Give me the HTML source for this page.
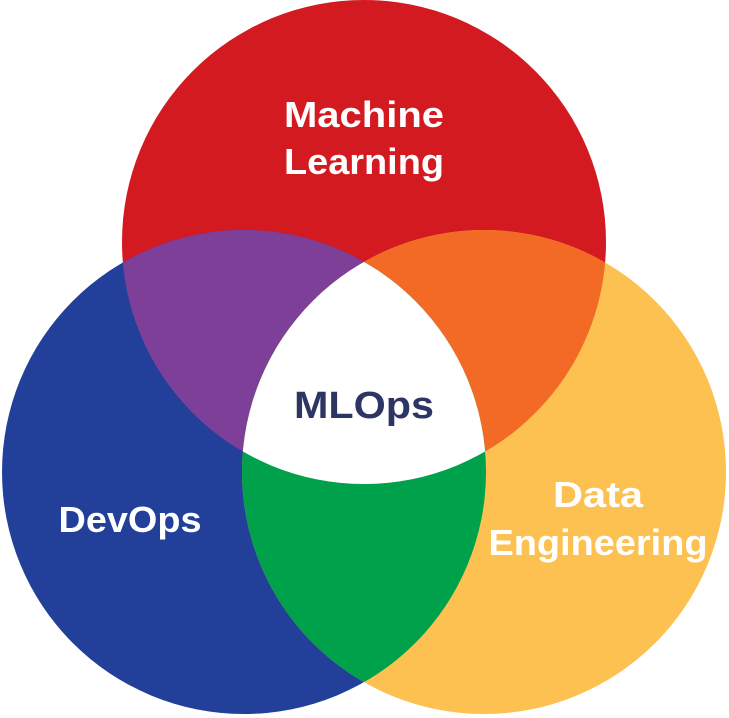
<!DOCTYPE html>
<html><head><meta charset="utf-8"><style>
html,body{margin:0;padding:0;background:#fff;}
svg{display:block;}
text{font-family:"Liberation Sans",sans-serif;font-weight:bold;text-anchor:middle;}
</style></head><body>
<svg width="729" height="718" viewBox="0 0 729 718" xmlns="http://www.w3.org/2000/svg">
<defs>
<clipPath id="cR"><circle cx="364" cy="242" r="242"/></clipPath>
<clipPath id="cB"><circle cx="244" cy="472" r="242"/></clipPath>
<clipPath id="cY"><circle cx="484" cy="472" r="242"/></clipPath>
</defs>
<circle cx="364" cy="242" r="242" fill="#d31a21"/>
<circle cx="244" cy="472" r="242" fill="#22409a"/>
<circle cx="484" cy="472" r="242" fill="#fdc152"/>
<g clip-path="url(#cR)"><circle cx="244" cy="472" r="242" fill="#7e3f98"/></g>
<g clip-path="url(#cR)"><circle cx="484" cy="472" r="242" fill="#f26a25"/></g>
<g clip-path="url(#cB)"><circle cx="484" cy="472" r="242" fill="#00a14b"/></g>
<g clip-path="url(#cR)"><g clip-path="url(#cB)"><circle cx="484" cy="472" r="242" fill="#ffffff"/></g></g>
<text x="364" y="127" font-size="36" fill="#fff" textLength="160" lengthAdjust="spacingAndGlyphs">Machine</text>
<text x="364" y="174" font-size="36" fill="#fff" textLength="160" lengthAdjust="spacingAndGlyphs">Learning</text>
<text x="364" y="418" font-size="38" fill="#2d3563" textLength="140" lengthAdjust="spacingAndGlyphs">MLOps</text>
<text x="130" y="532" font-size="36" fill="#fff" textLength="143" lengthAdjust="spacingAndGlyphs">DevOps</text>
<text x="598" y="507" font-size="36" fill="#fff" textLength="90" lengthAdjust="spacingAndGlyphs">Data</text>
<text x="598" y="555" font-size="36" fill="#fff" textLength="219" lengthAdjust="spacingAndGlyphs">Engineering</text>
</svg>
</body></html>
